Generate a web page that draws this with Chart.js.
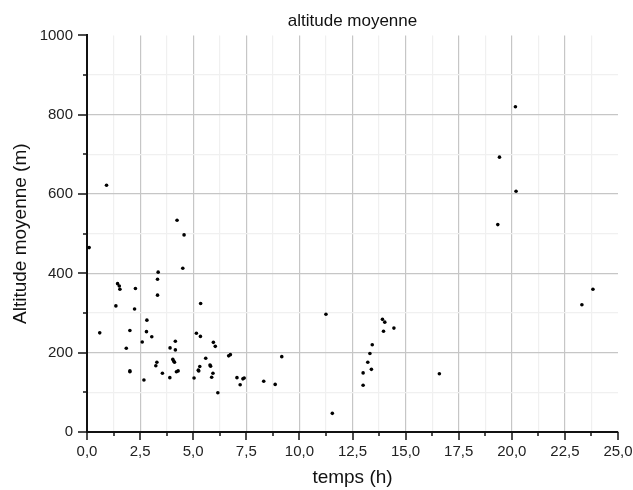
<!DOCTYPE html>
<html>
<head>
<meta charset="utf-8">
<script src="https://cdn.jsdelivr.net/npm/chart.js@4"></script>
<style>
  html, body { margin: 0; padding: 0; background: #fff; }
  #wrap { width: 633px; height: 490px; }
</style>
</head>
<body>
<div id="wrap"><canvas id="altChart" width="633" height="490"></canvas></div>
<script>
// values
const hours = [0.1, 0.6, 0.92, 1.36, 1.44, 1.52, 1.55, 1.85, 2.02, 2.02, 2.02, 2.24, 2.28, 2.6, 2.68,
  2.8, 2.82, 3.05, 3.24, 3.29, 3.32, 3.32, 3.35, 3.55, 3.9, 3.91, 4.04, 4.08, 4.12, 4.16, 4.16,
  4.21, 4.29, 4.24, 4.51, 4.57, 5.04, 5.15, 5.24, 5.26, 5.31, 5.34, 5.35, 5.59, 5.79, 5.82, 5.87,
  5.93, 5.95, 6.04, 6.16, 6.67, 6.75, 7.06, 7.21, 7.34, 7.4, 8.32, 8.86, 9.17, 11.25, 11.55,
  13.0, 13.0, 13.22, 13.32, 13.39, 13.43, 13.91, 13.96, 14.02, 14.45, 16.59, 19.34, 19.42,
  20.17, 20.2, 23.3, 23.82];
const altitudes = [465, 250, 622, 318, 374, 368, 360, 211, 256, 154, 152, 310, 362, 227, 131,
  253, 282, 240, 167, 176, 385, 345, 403, 148, 137, 212, 183, 179, 176, 229, 207,
  152, 154, 534, 413, 497, 136, 249, 156, 154, 165, 241, 324, 186, 169, 166, 138,
  148, 226, 216, 99, 192, 195, 137, 119, 134, 136, 128, 120, 190, 297, 47,
  149, 118, 176, 198, 158, 220, 284, 254, 277, 262, 147, 523, 693,
  820, 607, 321, 360];

const xMajor = 2.5, yMajor = 200;

// outward tick marks, long on major and short on minor
const tickMarks = {
  id: 'tickMarks',
  afterDraw(chart) {
    const c = chart.ctx, xs = chart.scales.x, ys = chart.scales.y;
    c.save();
    c.strokeStyle = '#111';
    c.lineWidth = 1.5;
    xs.ticks.forEach(t => {
      const px = Math.round(xs.getPixelForValue(t.value));
      const len = t.value % xMajor === 0 ? 8 : 4;
      c.beginPath();
      c.moveTo(px, ys.bottom);
      c.lineTo(px, ys.bottom + len);
      c.stroke();
    });
    ys.ticks.forEach(t => {
      const py = Math.round(ys.getPixelForValue(t.value));
      const len = t.value % yMajor === 0 ? 9 : 4;
      c.beginPath();
      c.moveTo(xs.left, py);
      c.lineTo(xs.left - len, py);
      c.stroke();
    });
    c.restore();
  }
};

Chart.defaults.font.family = '"Liberation Sans", Arial, sans-serif';
Chart.defaults.color = '#222';

const ctx = document.getElementById('altChart').getContext('2d');
new Chart(ctx, {
  type: 'scatter',
  data: {
    datasets: [{
      label: 'altitude moyenne',
      data: hours.map((h, i) => ({ x: h, y: altitudes[i] })),
      backgroundColor: '#000',
      borderColor: '#000',
      pointRadius: 1.8,
      pointBorderWidth: 0
    }]
  },
  options: {
    responsive: false,
    animation: false,
    layout: { padding: { left: 0, right: 15, top: 0, bottom: 0 } },
    plugins: {
      legend: { display: false },
      tooltip: { enabled: false },
      title: {
        display: true,
        fullSize: false,
        text: 'altitude moyenne',
        color: '#111',
        font: { size: 17, weight: 'normal' },
        padding: { top: 11, bottom: 4 }
      }
    },
    scales: {
      x: {
        type: 'linear',
        min: 0,
        max: 25,
        afterFit: s => { s.height = 58; s.paddingRight = 0; s.paddingLeft = 0; },
        border: { color: '#111', width: 2 },
        grid: {
          drawTicks: false,
          lineWidth: 1.2,
          color: c => {
            const v = c.tick.value;
            if (v === 0 || v === 25) return 'rgba(0,0,0,0)';
            return v % xMajor === 0 ? '#c6c6c6' : '#f0f0f0';
          }
        },
        ticks: {
          stepSize: 1.25,
          autoSkip: false,
          maxRotation: 0,
          padding: 11,
          color: '#222',
          font: { size: 15 },
          callback: v => v % xMajor === 0 ? v.toFixed(1).replace('.', ',') : ''
        },
        title: {
          display: true,
          text: 'temps (h)',
          color: '#111',
          font: { size: 19 },
          padding: { top: 0, bottom: 1 }
        }
      },
      y: {
        type: 'linear',
        min: 0,
        max: 1000,
        afterFit: s => { s.width = 87; s.paddingTop = 0; s.paddingBottom = 0; },
        border: { color: '#111', width: 2 },
        grid: {
          drawTicks: false,
          lineWidth: 1.2,
          color: c => {
            const v = c.tick.value;
            if (v === 0 || v === 1000) return 'rgba(0,0,0,0)';
            return v % yMajor === 0 ? '#c6c6c6' : '#f0f0f0';
          }
        },
        ticks: {
          stepSize: 100,
          autoSkip: false,
          padding: 14,
          color: '#222',
          font: { size: 15 },
          callback: v => v % yMajor === 0 ? String(v) : ''
        },
        title: {
          display: true,
          text: 'Altitude moyenne (m)',
          color: '#111',
          font: { size: 19 },
          padding: { top: 9, bottom: 0 }
        }
      }
    }
  },
  plugins: [tickMarks]
});
</script>
</body>
</html>
